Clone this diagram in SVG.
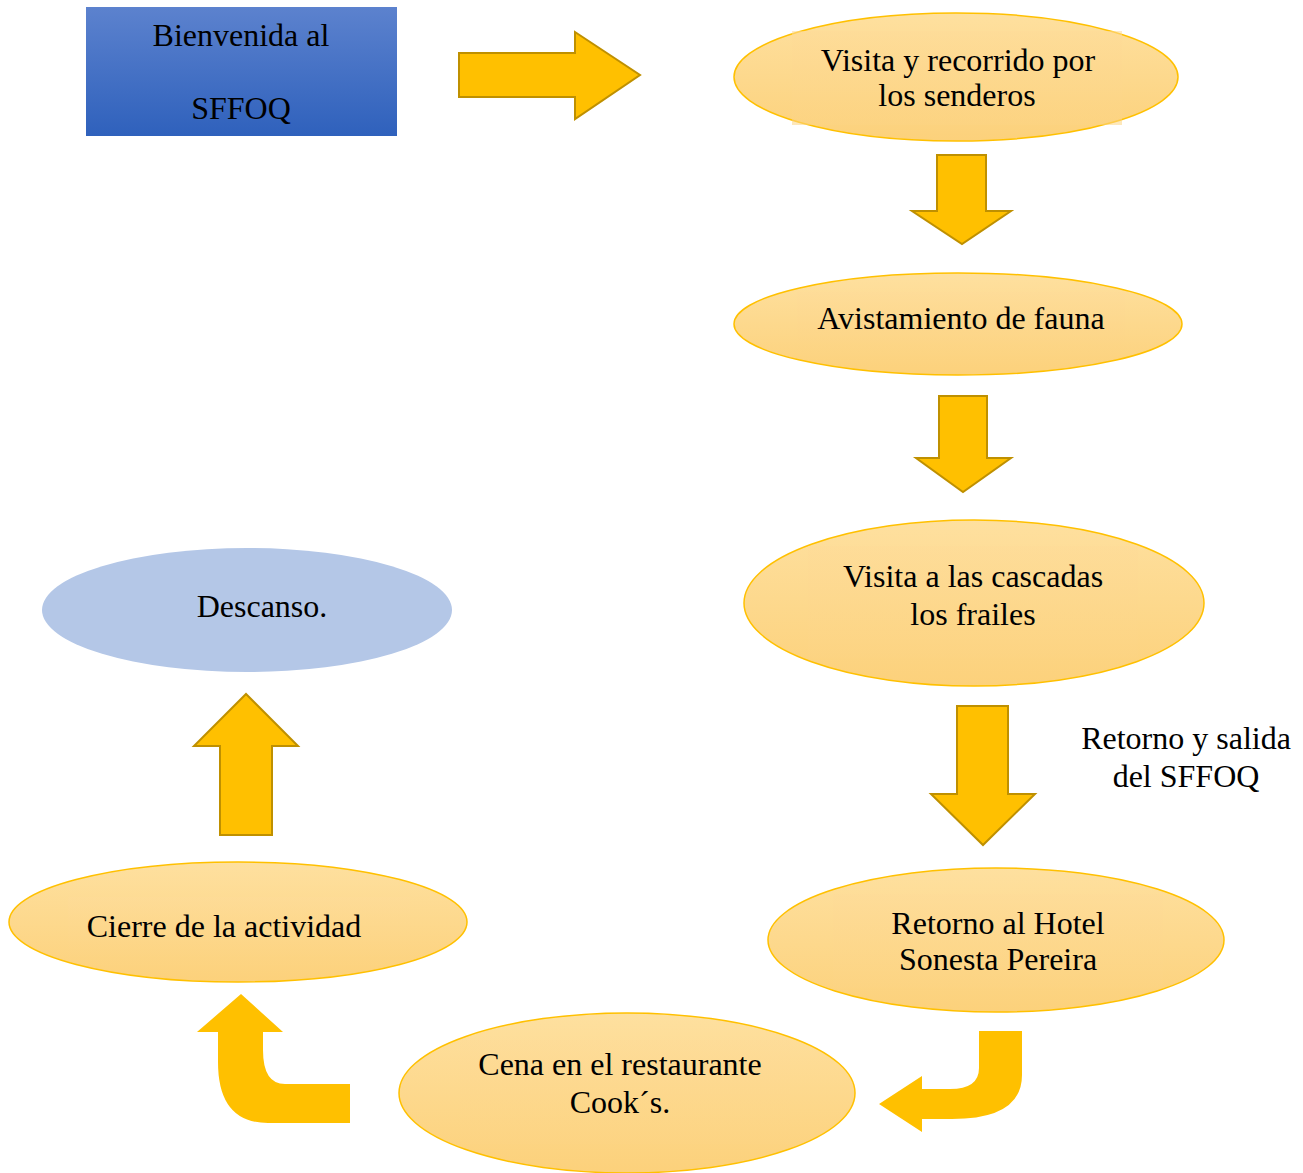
<svg xmlns="http://www.w3.org/2000/svg" width="1303" height="1173" viewBox="0 0 1303 1173">
  <defs>
    <linearGradient id="blueBox" x1="0" y1="0" x2="0" y2="1">
      <stop offset="0" stop-color="#5C82CE"/>
      <stop offset="1" stop-color="#2F61BC"/>
    </linearGradient>
    <linearGradient id="goldFill" x1="0" y1="0" x2="0" y2="1">
      <stop offset="0" stop-color="#FEE09F"/>
      <stop offset="1" stop-color="#FCD17B"/>
    </linearGradient>
    <linearGradient id="goldBox" x1="0" y1="0" x2="0" y2="1">
      <stop offset="0" stop-color="#FEDB98"/>
      <stop offset="1" stop-color="#FCD483"/>
    </linearGradient>
  </defs>
  <style>
    .lbl { font-family: "Liberation Serif", "Times New Roman", serif; font-size: 32px; fill: #000; text-anchor: middle; }
    .step { fill: url(#goldFill); stroke: #FFC000; stroke-width: 1.5; }
    .tbox { fill: url(#goldBox); opacity: 0.55; }
    .block { fill: #FFC000; stroke: #BF9000; stroke-width: 2; stroke-linejoin: miter; }
    .flat { fill: #FFC000; }
  </style>

  <rect width="1303" height="1173" fill="#FFFFFF"/>

  <!-- flow arrows -->
  <g id="connectors">
    <path class="block" d="M459,53 H575 V32 L640,75 L575,119 V97 H459 Z"/>
    <path class="block" d="M937,155 H986 V211 H1011 L962,244 L912,211 H937 Z"/>
    <path class="block" d="M939,396 H987 V458 H1011 L963,492 L916,458 H939 Z"/>
    <path class="block" d="M957,706 H1008 V794 H1035 L983,845 L931,794 H957 Z"/>
    <path class="flat" d="M979,1031 H1022 V1075 Q1022,1119 952,1119 H922 V1132 L879,1104 L922,1076 V1089 H950 Q979,1089 979,1068 Z"/>
    <path class="flat" d="M350,1084 H285 Q263,1084 263,1050 V1032 H283 L241,994 L197,1032 H218 V1062 Q218,1123 268,1123 H350 Z"/>
    <path class="block" d="M220,835 V746 H194 L246,694 L298,746 H272 V835 Z"/>
  </g>

  <g id="node-bienvenida">
    <rect x="86" y="7" width="311" height="129" fill="url(#blueBox)"/>
    <text class="lbl" x="241" y="46">Bienvenida al</text>
    <text class="lbl" x="241" y="119">SFFOQ</text>
  </g>

  <g id="node-senderos">
    <ellipse class="step" cx="956" cy="77" rx="222" ry="64"/>
    <rect class="tbox" x="792" y="31" width="330" height="94"/>
    <text class="lbl" x="958" y="71">Visita y recorrido por</text>
    <text class="lbl" x="957" y="106">los senderos</text>
  </g>

  <g id="node-fauna">
    <ellipse class="step" cx="958" cy="324" rx="224" ry="51"/>
    <rect class="tbox" x="797" y="292" width="328" height="60"/>
    <text class="lbl" x="961" y="329">Avistamiento de fauna</text>
  </g>

  <g id="node-cascadas">
    <ellipse class="step" cx="974" cy="603" rx="230" ry="83"/>
    <rect class="tbox" x="808" y="546" width="330" height="112"/>
    <text class="lbl" x="973" y="587">Visita a las cascadas</text>
    <text class="lbl" x="973" y="625">los frailes</text>
  </g>

  <g id="label-salida">
    <text class="lbl" x="1186" y="749">Retorno y salida</text>
    <text class="lbl" x="1186" y="787">del SFFOQ</text>
  </g>

  <g id="node-hotel">
    <ellipse class="step" cx="996" cy="940" rx="228" ry="72"/>
    <rect class="tbox" x="833" y="894" width="330" height="94"/>
    <text class="lbl" x="998" y="934">Retorno al Hotel</text>
    <text class="lbl" x="998" y="970">Sonesta Pereira</text>
  </g>

  <g id="node-cena">
    <ellipse class="step" cx="627" cy="1093" rx="228" ry="80"/>
    <rect class="tbox" x="460" y="1040" width="330" height="104"/>
    <text class="lbl" x="620" y="1075">Cena en el restaurante</text>
    <text class="lbl" x="620" y="1113">Cook´s.</text>
  </g>

  <g id="node-cierre">
    <ellipse class="step" cx="238" cy="922" rx="229" ry="60"/>
    <rect class="tbox" x="68" y="897" width="342" height="60"/>
    <text class="lbl" x="224" y="937">Cierre de la actividad</text>
  </g>

  <g id="node-descanso">
    <ellipse cx="247" cy="610" rx="205" ry="62" fill="#B4C7E7"/>
    <text class="lbl" x="262" y="617">Descanso.</text>
  </g>
</svg>
